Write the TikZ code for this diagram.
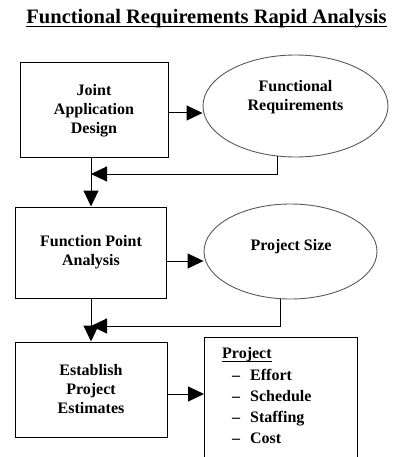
\documentclass[tikz,border=0pt]{standalone}
\usepackage{fontspec}
\setmainfont{Liberation Serif}
\usetikzlibrary{arrows.meta,shapes.geometric}
\newcommand{\ulined}[1]{\setbox0\hbox{#1}\rlap{\rule[-3pt]{\wd0}{1.3pt}}\box0}

\begin{document}
\begin{tikzpicture}[x=1pt, y=-1pt, >={Triangle[length=16pt, width=15pt]}]
	\tikzstyle {Step}   = [shape=rectangle, draw=black, line width=1pt, minimum width=151pt, minimum height=93pt, align=center, font=\fontsize{16}{19}\selectfont\bfseries, inner sep=0pt]
	\tikzstyle {Result} = [shape=ellipse, draw=black!65, line width=0.9pt, inner sep=0pt]
	\tikzstyle {Label}  = [align=center, font=\fontsize{16}{19}\selectfont\bfseries]
	\tikzstyle {Flow}   = [->, line width=1pt]

	\useasboundingbox (0,0) rectangle (395,457);
	\clip (0,0) rectangle (395,457);

	% title
	\node[font=\fontsize{20.5}{24}\selectfont\bfseries, anchor=base] (title) at (206.5,24) {\ulined{Functional Requirements Rapid Analysis}};

	% Joint Application Design / Functional Requirements
	\node[Step, minimum width=148pt, minimum height=95pt] (jad) at (94,110.5) {Joint\\Application\\Design};
	\node[Result, minimum width=185pt, minimum height=102pt] (freq) at (295.5,106) {};
	\node[Label] (freq-text) at (295.5,97) {Functional\\Requirements};
	\coordinate (merge-1) at (91,174);

	% Function Point Analysis / Project Size
	\node[Step, minimum height=91pt] (fpa) at (91,252.5) {Function Point\\Analysis};
	\node[Result, minimum width=173pt, minimum height=95pt] (size) at (290.5,251.5) {};
	\node[Label] (size-text) at (291,247) {Project Size};
	\coordinate (merge-2) at (91,326);

	% Establish Project Estimates / Project
	\node[Step, minimum width=152pt, minimum height=95pt] (est) at (91,389.5) {Establish\\Project\\Estimates};
	\node[draw=black, line width=1pt, minimum width=153pt, minimum height=140pt, anchor=north west] (out) at (204,337) {};
	\node[Label, align=left, anchor=north west, inner sep=0pt, font=\fontsize{16}{21.25}\selectfont\bfseries] (out-text) at (222,347.5)
		{\ulined{Project}\\
		 \hspace*{10pt}--\hspace{10pt}Effort\\
		 \hspace*{10pt}--\hspace{10pt}Schedule\\
		 \hspace*{10pt}--\hspace{10pt}Staffing\\
		 \hspace*{10pt}--\hspace{10pt}Cost};

	\draw[Flow] ([yshift=-2.5pt]jad.east) -- ([yshift=-2.5pt]jad.east -| freq.west);
	\draw[Flow] (freq.250) |- (merge-1);
	\draw[Flow] (jad.south -| fpa.north) -- (fpa.north);

	\draw[Flow] ([yshift=-8.5pt]fpa.east) -- ([yshift=-8.5pt]fpa.east -| size.west);
	\draw[Flow] (size.258) |- (merge-2);
	\draw[Flow] (fpa.south) -- (est.north);

	\draw[Flow] ([yshift=-4.5pt]est.east) -- ([yshift=-4.5pt]est.east -| out.west);
\end{tikzpicture}
\end{document}
